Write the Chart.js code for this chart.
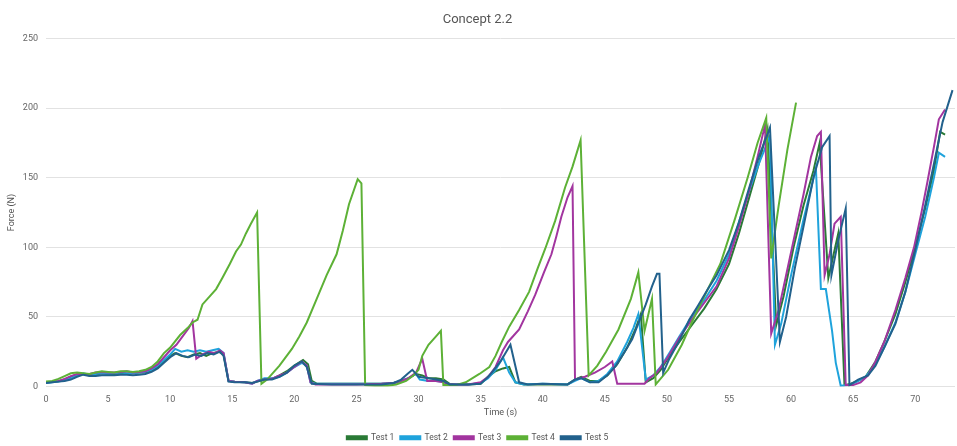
<!DOCTYPE html>
<html>
<head>
<meta charset="utf-8">
<script src="https://cdn.jsdelivr.net/npm/chart.js@4/dist/chart.umd.min.js"></script>
<style>
  html, body { margin: 0; padding: 0; background: #fff; }
  #wrap { width: 957px; height: 446px; }
</style>
</head>
<body>
<div id="wrap"><canvas id="forceChart"></canvas></div>
<script>
// Force (N) over time (s), one [time, force] pair per reading
const test1 = [[0,3],[0.5,3.2],[1,3.8],[1.5,5],[2,7],[2.5,8.5],[3,9],[3.5,8],[4,8.5],[4.5,9.5],[5,9],[5.5,9],[6,9.5],[6.5,9],[7,9.5],[7.5,10],[8,10],[8.5,11.5],[9,14],[9.5,18],[10,22],[10.4,24],[10.9,22],[11.4,21],[11.9,23],[12.4,24],[12.9,22],[13.4,24],[13.9,25],[14.3,23],[14.7,4],[15.2,3.5],[16,3],[16.6,2.5],[17,3.5],[17.6,5],[18.2,5.5],[18.8,8],[19.4,11],[20,15],[20.7,19],[21.1,16],[21.4,4],[21.8,2],[23,2],[25,2],[27,2],[28,2.5],[28.6,4],[29.2,6],[29.8,9],[30.3,8],[30.8,6],[31.4,6],[32,5],[32.5,2],[33,1.5],[34,1.5],[35,2],[35.6,7],[36.2,11],[36.8,13],[37.3,14],[37.8,3],[38.5,1.5],[40,1.5],[42,1.5],[42.6,5],[43.1,7],[43.8,4],[44.5,4],[45.2,8],[46,16],[46.8,28],[47.5,42],[47.9,52],[48.3,3],[48.9,6],[49.5,12],[50.2,22],[51,32],[52,44],[53,56],[54,70],[55,88],[55.8,110],[56.6,135],[57.4,160],[58.1,185],[58.8,44],[59.4,65],[60.2,100],[61,130],[61.8,155],[62.3,175],[63,78],[63.8,110],[64.3,1],[64.8,2],[65.4,4],[66,7],[66.8,18],[67.5,32],[68.4,52],[69.2,75],[70,100],[70.8,128],[71.5,155],[72,183],[72.4,181]];

const test2 = [[0,2.5],[0.5,3],[1,3.5],[1.5,4.5],[2,6],[2.5,8],[3,9.5],[3.5,8.5],[4,9],[4.5,9.5],[5,9],[5.5,9.5],[6,10],[6.5,9.5],[7,9.5],[7.5,10],[8,10.5],[8.5,12],[9,15],[9.5,19],[10,23],[10.4,27],[10.9,25],[11.4,26],[11.9,25],[12.4,26],[12.9,25],[13.4,26],[13.9,27],[14.3,24],[14.7,4],[15.2,3.5],[16,3],[16.6,2],[17,4],[17.6,6],[18.2,6],[18.8,7],[19.4,10],[20,14],[20.6,17],[21,15],[21.3,3],[21.7,2],[23,2],[25,2],[27,2],[28,2.5],[28.6,4],[29.2,6],[29.8,9],[30.1,5],[30.8,4],[31.4,4],[32,3.5],[32.5,1.5],[34,1.5],[35,2.5],[35.6,6],[36.2,12],[36.8,21],[37.3,10],[37.8,3],[38.5,1.5],[40,2],[42,1.5],[42.6,4],[43.1,6],[43.8,3],[44.5,4],[45.2,9],[46,18],[46.8,32],[47.3,42],[47.7,52],[48.3,5],[48.9,8],[49.5,14],[50.2,24],[51,36],[52,50],[53,62],[54,76],[55,95],[55.8,118],[56.6,140],[57.4,160],[58.3,180],[58.7,30],[59.2,45],[60,80],[61,120],[61.6,142],[62,157],[62.4,70],[62.8,70],[63.3,40],[63.6,17],[64,0.5],[64.6,1],[65.2,3],[66,7],[66.8,16],[67.5,28],[68.4,46],[69.2,68],[70,95],[70.8,122],[71.5,150],[71.9,168],[72.4,165]];

const test3 = [[0,3],[0.5,3.5],[1,4],[1.5,5.5],[2,7.5],[2.5,9],[3,9],[3.5,9],[4,10],[4.5,10.5],[5,10],[5.5,10],[6,10.5],[6.5,11],[7,10],[7.5,10.5],[8,11],[8.5,13],[9,16],[9.5,21],[10,26],[10.5,30],[11,36],[11.5,42],[11.8,47],[12.1,20],[12.6,23],[13.1,25],[13.6,24],[14,26],[14.3,24],[14.7,4],[15.2,3.5],[16,3],[16.6,2],[17,4],[17.6,5],[18.2,5.5],[18.8,8],[19.4,10],[20,14],[20.6,18],[21,15],[21.3,3],[21.7,1.5],[23,1.5],[25,1.5],[27,2],[28,2.5],[28.6,4],[29.2,6],[29.8,10],[30.3,20],[30.7,4],[31.4,4],[32,3],[32.5,1.5],[34,1.5],[35,3],[35.6,7],[36.2,14],[36.8,26],[37.2,32],[38.1,41],[38.8,54],[39.4,66],[40.1,82],[40.7,95],[41.1,108],[41.5,122],[42,136],[42.4,144],[42.6,5],[43.4,7],[44.2,10],[45,14],[45.6,18],[46,2],[47,2],[48.2,2],[48.6,6],[49.2,10],[50,20],[51,35],[52,48],[53,60],[54,72],[55,92],[55.8,115],[56.6,140],[57.3,165],[57.9,188],[58.4,38],[59,55],[59.6,80],[60.3,109],[61,138],[61.6,165],[62.1,180],[62.4,183],[62.7,80],[63.1,95],[63.5,117],[64,122],[64.4,1],[65,1],[65.6,3],[66.2,8],[66.8,18],[67.5,32],[68.4,55],[69.2,78],[69.9,100],[70.5,125],[71,148],[71.5,172],[71.9,192],[72.4,199]];

const test4 = [[0,3.5],[0.5,4],[1,5.5],[1.5,7.5],[2,9.5],[2.5,10],[3,9.5],[3.5,9],[4,10],[4.5,11],[5,10.5],[5.5,10],[6,11],[6.5,11],[7,10.5],[7.5,11],[8,12],[8.5,14],[9,18],[9.5,24],[10,28],[10.8,37],[11.4,42],[11.8,46],[12.2,48],[12.6,59],[13.2,65],[13.7,70],[14.2,78],[14.8,88],[15.3,97],[15.7,102],[16.1,110],[16.5,117],[17,125],[17.35,2],[17.8,5],[18.8,15],[19.8,27],[20.4,36],[21,46],[21.8,63],[22.6,80],[23.4,95],[23.9,112],[24.4,131],[25.1,149],[25.4,146],[25.7,1],[26.5,0.5],[27.5,0.5],[28.2,1.5],[29,4],[29.6,8],[30,12],[30.3,22],[30.8,30],[31.3,35],[31.8,40],[32,1],[33,1],[33.8,3],[34.9,9],[35.7,14],[36.2,22],[36.7,32],[37.3,43],[38.1,55],[38.9,68],[39.6,85],[40.2,99],[41,119],[41.8,143],[42.4,158],[43.05,177],[43.7,8],[44.4,15],[45.1,25],[46.1,41],[47.1,63],[47.7,82],[48.2,40],[48.8,63],[49.1,1.5],[50.1,12],[51.2,30],[52,46],[52.8,61],[54.3,88],[55.5,121],[56.5,150],[57.3,175],[58,193],[58.4,92],[59,130],[59.7,170],[60.4,204]];

const test5 = [[0,2.5],[0.5,3],[1,3.5],[1.5,4],[2,5],[2.5,7],[3,8.5],[3.5,7.5],[4,7.5],[4.5,8],[5,8],[5.5,8],[6,8.5],[6.5,8.5],[7,8],[7.5,8.5],[8,9],[8.5,10.5],[9,13],[9.5,17],[10,21],[10.5,24],[11,22],[11.5,21],[12,23],[12.5,22],[13,24],[13.5,23],[14,25],[14.3,22],[14.7,3.5],[15.2,3],[16,3],[16.6,2.5],[17,3.5],[17.6,5],[18.2,5],[18.8,7],[19.4,10],[20,15],[20.6,18],[21,14],[21.4,2],[23,1.5],[25,1.5],[27,1.5],[28,2.5],[28.6,5],[29.1,9],[29.5,12],[30,7],[30.8,6],[31.4,5],[32,4],[32.5,1.5],[34,1.5],[35,2],[35.5,6],[35.9,10],[36.6,18],[37.4,30],[38.1,3],[38.8,1.5],[40,2],[42,1.5],[42.6,5],[43.1,6],[43.8,3],[44.5,3],[45.2,8],[45.9,15],[46.6,25],[47.2,34],[48.3,59],[48.8,72],[49.2,81],[49.4,81],[49.7,10],[50.2,20],[51,33],[51.8,48],[52.5,58],[53.3,70],[54,80],[55,98],[55.8,118],[56.6,142],[57.4,165],[58.3,186],[59.1,32],[59.6,50],[60.3,85],[61,115],[61.8,150],[62.5,172],[63.1,180],[63.25,80],[63.8,105],[64.4,128],[64.7,1],[65.4,5],[66.2,8],[66.8,15],[67.5,28],[68.4,45],[69.2,68],[70,98],[70.8,130],[71.5,160],[72.2,190],[73,213]];

const seriesNames = ['Test 1', 'Test 2', 'Test 3', 'Test 4', 'Test 5'];
const seriesData = [test1, test2, test3, test4, test5];
const seriesColors = ['#2a7a36', '#1fa3dc', '#a2359f', '#5db136', '#22618c'];

const yTicks = [0, 50, 100, 150, 200, 250];
const xStep = 5;
const xMax = 73.2;

const FONT = 'Roboto, "Liberation Sans", sans-serif';

function buildDatasets() {
  return seriesData.map((pairs, i) => ({
    label: seriesNames[i],
    data: pairs.map(p => ({ x: p[0], y: p[1] })),
    borderColor: seriesColors[i],
    backgroundColor: seriesColors[i],
    borderWidth: 2,
    pointRadius: 0,
    tension: 0,
    showLine: true,
    // later tests sit on top, like the original
    order: seriesData.length - i
  }));
}

const ctx = document.getElementById('forceChart').getContext('2d');

new Chart(ctx, {
  type: 'scatter',
  data: { datasets: buildDatasets() },
  options: {
    responsive: true,
    maintainAspectRatio: false,
    animation: false,
    layout: { padding: { left: 0, right: 2, top: 0, bottom: -6 } },
    plugins: {
      title: {
        display: true,
        text: 'Concept 2.2',
        color: '#555',
        font: { family: FONT, size: 13, weight: 'normal' },
        padding: { top: 12, bottom: 11 }
      },
      legend: {
        position: 'bottom',
        labels: {
          color: '#555',
          font: { family: FONT, size: 8.5 },
          boxWidth: 20,
          boxHeight: 3,
          padding: 6,
          sort: (a, b) => a.datasetIndex - b.datasetIndex
        }
      },
      tooltip: { enabled: false }
    },
    scales: {
      x: {
        type: 'linear',
        min: 0,
        max: xMax,
        grid: { display: false },
        border: { display: false },
        ticks: {
          stepSize: xStep,
          color: '#666',
          font: { family: FONT, size: 9 },
          padding: 0,
          maxRotation: 0
        },
        afterBuildTicks: scale => {
          scale.ticks = scale.ticks.filter(t => t.value % xStep === 0);
        },
        afterFit: scale => { scale.height = 41; },
        title: {
          display: true,
          text: 'Time (s)',
          color: '#555',
          font: { family: FONT, size: 9 },
          padding: { top: 2, bottom: 9 }
        }
      },
      y: {
        min: 0,
        max: 250,
        grid: { color: '#e2e2e2', drawTicks: false },
        border: { display: false },
        ticks: {
          color: '#666',
          font: { family: FONT, size: 9 },
          padding: 8
        },
        afterBuildTicks: scale => {
          scale.ticks = yTicks.map(v => ({ value: v }));
        },
        afterFit: scale => { scale.width = 46; },
        title: {
          display: true,
          text: 'Force (N)',
          color: '#555',
          font: { family: FONT, size: 9 },
          padding: { top: 6, bottom: 0 }
        }
      }
    }
  }
});
</script>
</body>
</html>
